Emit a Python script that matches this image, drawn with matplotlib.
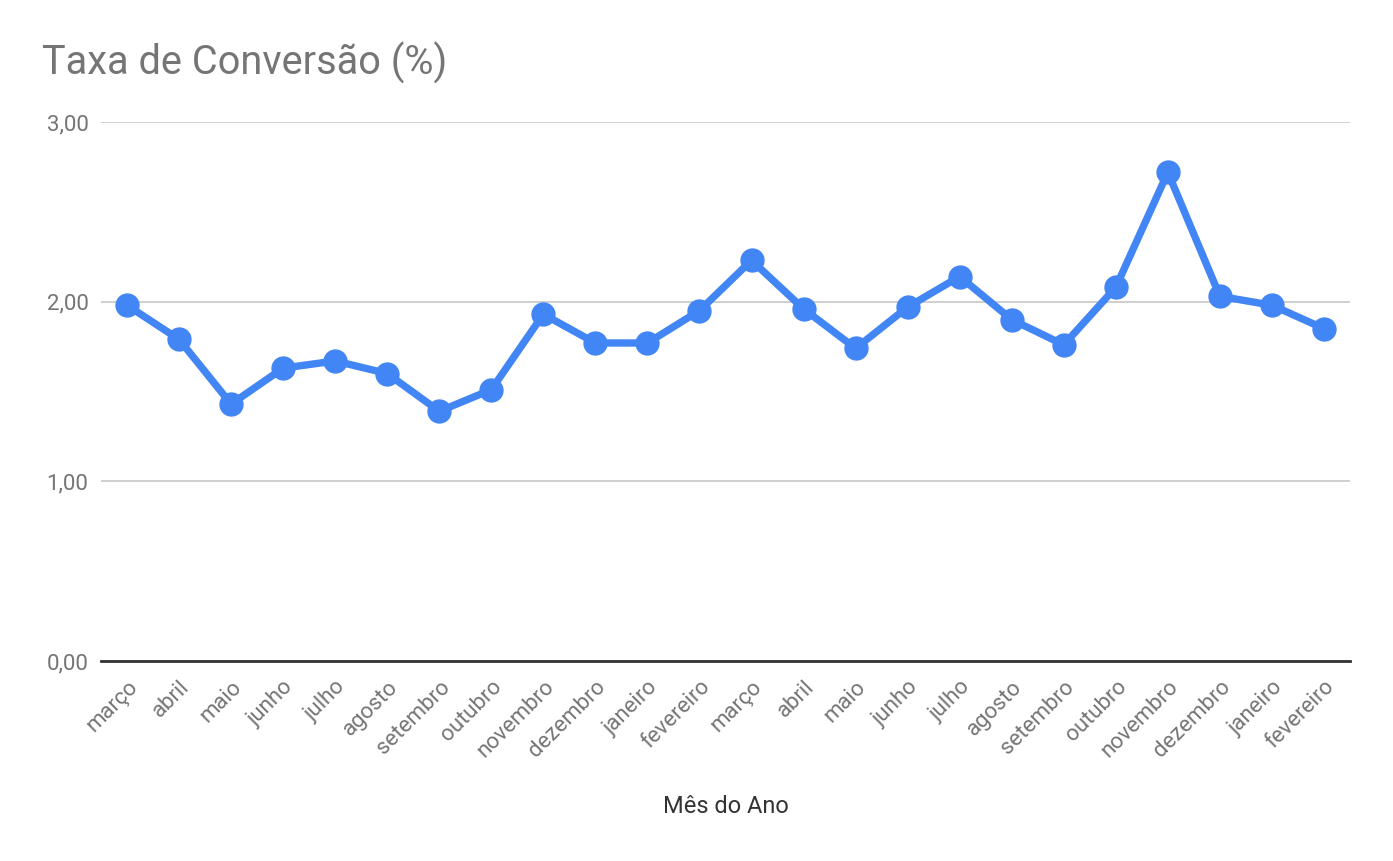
import matplotlib.pyplot as plt
import numpy as np

plt.rcParams['font.family'] = ['Roboto', 'DejaVu Sans']

# dados
meses = ['março', 'abril', 'maio', 'junho', 'julho', 'agosto', 'setembro', 'outubro',
         'novembro', 'dezembro', 'janeiro', 'fevereiro',
         'março', 'abril', 'maio', 'junho', 'julho', 'agosto', 'setembro', 'outubro',
         'novembro', 'dezembro', 'janeiro', 'fevereiro']
taxa = [1.98, 1.79, 1.43, 1.63, 1.67, 1.60, 1.39, 1.51, 1.93, 1.77, 1.77, 1.95,
        2.23, 1.96, 1.74, 1.97, 2.14, 1.90, 1.76, 2.08, 2.72, 2.03, 1.98, 1.85]
y_ticks = [0, 1, 2, 3]
y_labels = ['0,00', '1,00', '2,00', '3,00']

azul = '#4285F4'
cinza = '#757575'

fig = plt.figure(figsize=(13.93, 8.61), dpi=100)
ax = fig.add_axes([101 / 1393, 1 - 661 / 861, (1350 - 101) / 1393, (661 - 122) / 861])

x = np.arange(len(taxa))
ax.plot(x, taxa, color=azul, linewidth=5.3, marker='o', markersize=16.5,
        solid_capstyle='round', solid_joinstyle='round', zorder=3, clip_on=False)

ax.set_xlim(-0.5, len(taxa) - 0.5)
ax.set_ylim(0, 3)
ax.set_yticks(y_ticks)
ax.set_yticklabels(y_labels)
ax.set_xticks(x)
ax.set_xticklabels(meses, rotation=45, ha='right', rotation_mode='anchor')

ax.grid(axis='y', color='#cccccc', linewidth=1.3)
ax.set_axisbelow(True)
for lado in ['top', 'right', 'left']:
    ax.spines[lado].set_visible(False)
ax.spines['bottom'].set_color('#333333')
ax.spines['bottom'].set_linewidth(2)
ax.spines['bottom'].set_zorder(2)

ax.tick_params(axis='both', length=0, colors=cinza, labelsize=16)
ax.tick_params(axis='y', pad=9)
ax.tick_params(axis='x', pad=11)

ax.set_xlabel('Mês do Ano', fontsize=17, color='#333333', labelpad=24)
fig.text(42 / 1393, 1 - 63 / 861, 'Taxa de Conversão (%)', fontsize=28.6, color=cinza,
         ha='left', va='center')

fig.savefig('out.png', dpi=100)
